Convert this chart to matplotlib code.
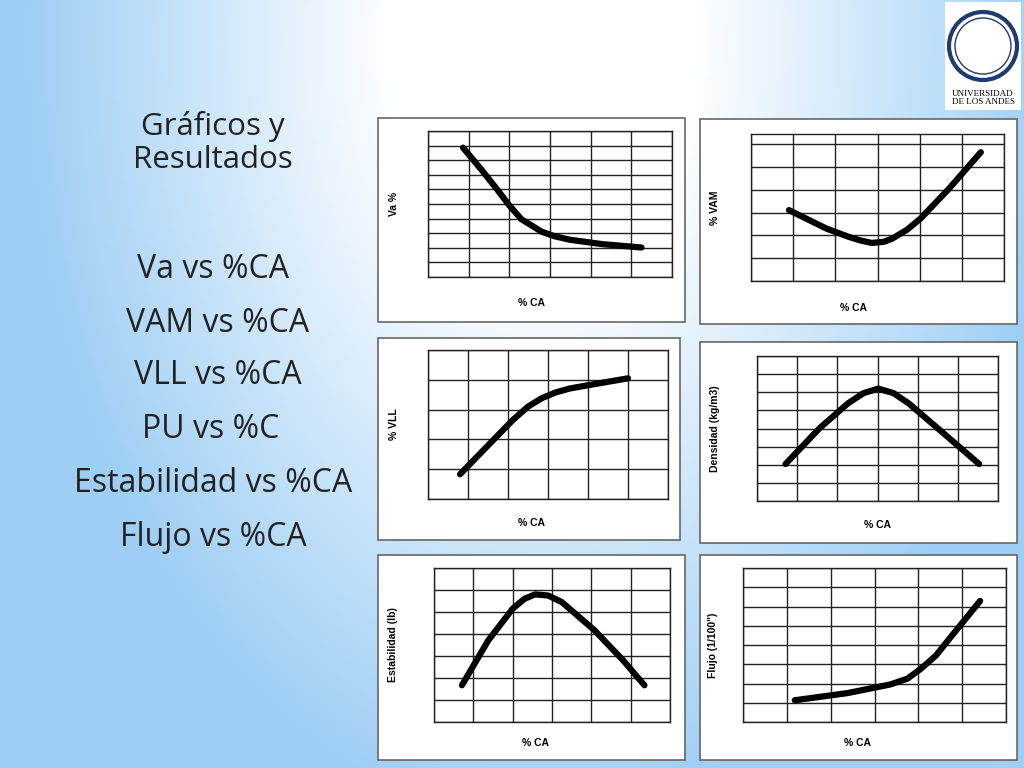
import numpy as np
import matplotlib
matplotlib.use("Agg")
import matplotlib.pyplot as plt
from matplotlib.patches import Rectangle, Circle

# datos (unidades de rejilla)
va_x = [0.86, 1.3, 1.7, 1.99, 2.3, 2.79, 3.1, 3.49, 4.29, 5.25]
va_y = [8.86, 7.4, 6.0, 4.93, 3.95, 3.11, 2.8, 2.55, 2.25, 2.02]
vam_x = [0.9, 1.79, 2.3, 2.57, 2.86, 3.15, 3.35, 3.7, 4.02, 4.7, 5.45]
vam_y = [3.11, 2.30, 1.95, 1.79, 1.67, 1.72, 1.86, 2.25, 2.74, 4.06, 5.65]
vll_x = [0.8, 1.51, 2.12, 2.5, 2.84, 3.2, 3.55, 4.27, 5.0]
vll_y = [0.83, 1.81, 2.65, 3.1, 3.38, 3.58, 3.71, 3.88, 4.05]
dens_x = [0.71, 1.55, 2.26, 2.65, 3.02, 3.4, 3.78, 4.6, 5.53]
dens_y = [2.04, 4.0, 5.38, 5.95, 6.2, 5.95, 5.38, 3.82, 2.04]
est_x = [0.71, 1.38, 2.0, 2.3, 2.57, 2.9, 3.25, 4.08, 4.81, 5.35]
est_y = [1.67, 3.71, 5.15, 5.6, 5.8, 5.75, 5.45, 4.17, 2.8, 1.67]
flujo_x = [1.18, 2.38, 3.36, 3.75, 4.06, 4.4, 4.71, 5.41]
flujo_y = [1.13, 1.5, 1.95, 2.25, 2.77, 3.45, 4.33, 6.29]

items = ["Va vs %CA", "VAM vs %CA", "VLL vs %CA", "PU vs %C",
         "Estabilidad vs %CA", "Flujo vs %CA"]

W, H = 1024, 768
fig = plt.figure(figsize=(10.24, 7.68), dpi=100)

# fondo degradado
bg = fig.add_axes([0, 0, 1, 1])
yy, xx = np.mgrid[0:H:4, 0:W:4]
d = np.sqrt(((xx - 540) / 430.0) ** 2 + ((yy - 40) / 650.0) ** 2)
t = np.clip((d - 0.35) / 0.85, 0, 1)
edge = np.array([0.62, 0.81, 0.96])
img = (1 - t)[..., None] * np.ones(3) + t[..., None] * edge
bg.imshow(img, extent=[0, W, H, 0], aspect="auto")
bg.set_xlim(0, W); bg.set_ylim(H, 0); bg.axis("off")

def fx(p): return p / W
def fy(p): return 1 - p / H

# texto izquierdo
fig.text(fx(213), fy(143), "Gráficos y\nResultados", fontsize=22.5, family="Open Sans",
         ha="center", va="center", linespacing=1.15, color="#222222")
for txt, (cx, cy) in zip(items, [(213, 270), (218, 324), (218, 376), (211, 430),
                                 (213, 484), (213, 537)]):
    fig.text(fx(cx), fy(cy), txt, fontsize=23, family="Open Sans", ha="center",
             va="center", color="#222222")

# logo
bg.add_patch(Rectangle((945, 2), 76, 108, fc="white", ec="none"))
bg.add_patch(Circle((983, 46), 34, fill=False, ec="#1f3a6e", lw=3))
bg.add_patch(Circle((983, 46), 28, fill=False, ec="#1f3a6e", lw=1))
bg.text(983, 98, "UNIVERSIDAD\nDE LOS ANDES", fontsize=6.5, family="Liberation Serif",
        ha="center", va="center", linespacing=1.0)

# caja, rejilla (px), filas, techo y, etiqueta y, x etiqueta y, pos etiqueta x, datos
panels = [
    ((378, 118, 685, 322), (428, 131, 672, 277), 10, 10, "Va %", 394, (532, 303), va_x, va_y),
    ((700, 119, 1017, 324), (751, 134, 1004, 281), 6, 6.45, "% VAM", 715, (853, 308), vam_x, vam_y),
    ((378, 338, 680, 540), (428, 350, 668, 499), 5, 5, "% VLL", 394, (532, 523), vll_x, vll_y),
    ((700, 342, 1017, 543), (757, 356, 998, 501), 8, 8, "Densidad (kg/m3)", 715, (878, 525), dens_x, dens_y),
    ((378, 555, 685, 760), (434, 568, 670, 722), 7, 7, "Estabilidad (lb)", 393, (536, 743), est_x, est_y),
    ((700, 555, 1017, 760), (743, 568, 1006, 722), 8, 8, "Flujo (1/100\")", 713, (858, 743), flujo_x, flujo_y),
]

for box, grid, rows, ytop, ylab, ylx, xlp, xs, ys in panels:
    x0, y0, x1, y1 = box
    bg.add_patch(Rectangle((x0, y0), x1 - x0, y1 - y0, fc="white", ec="#666666", lw=1.2))
    gx0, gy0, gx1, gy1 = grid
    ax = fig.add_axes([fx(gx0), fy(gy1), (gx1 - gx0) / W, (gy1 - gy0) / H])
    ax.set_xlim(0, 6); ax.set_ylim(0, ytop)
    ax.set_xticks(range(7)); ax.set_yticks(range(rows + 1))
    ax.grid(True, color="#222222", lw=1.0)
    ax.tick_params(length=0, labelbottom=False, labelleft=False)
    for s in ax.spines.values():
        s.set_color("#222222"); s.set_linewidth(1.0)
    ax.plot(xs, ys, color="black", lw=4.5, solid_capstyle="round", solid_joinstyle="round")
    bg.text(ylx, (gy0 + gy1) / 2, ylab, rotation=90, fontsize=7.5, fontweight="bold",
            family="Liberation Sans", ha="center", va="center")
    bg.text(xlp[0], xlp[1], "% CA", fontsize=7.5, fontweight="bold",
            family="Liberation Sans", ha="center", va="center")

fig.savefig("out.png", dpi=100)
